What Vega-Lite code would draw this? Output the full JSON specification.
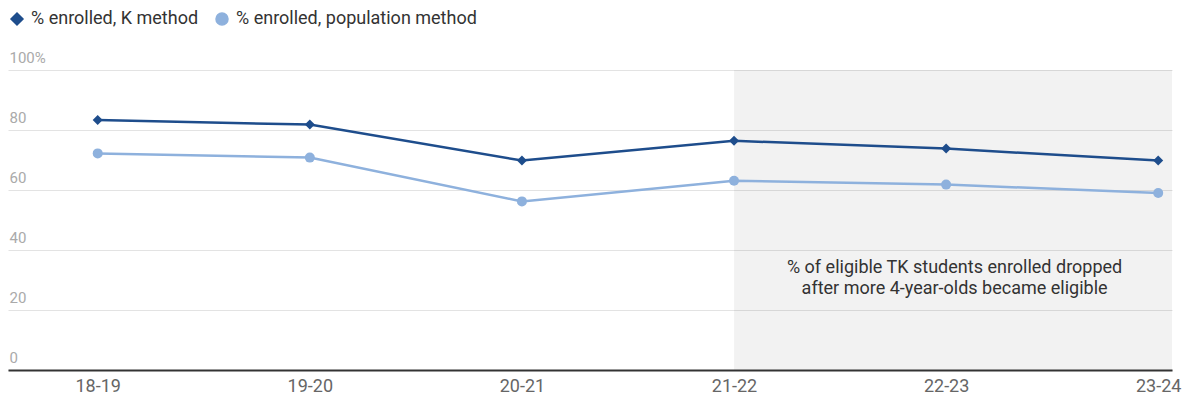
{
  "$schema": "https://vega.github.io/schema/vega-lite/v6.json",
  "width": 1164,
  "height": 300,
  "padding": {"left": 8, "top": 10, "right": 5, "bottom": 5},
  "config": {
    "font": "Roboto",
    "view": {"stroke": null},
    "axis": {"labelFont": "Roboto", "titleFont": "Roboto"},
    "legend": {"labelFont": "Roboto"}
  },
  "datasets": {
    "series": [
      {"year": 18, "series": "% enrolled, K method", "value": 83.3},
      {"year": 19, "series": "% enrolled, K method", "value": 81.8},
      {"year": 20, "series": "% enrolled, K method", "value": 69.8},
      {"year": 21, "series": "% enrolled, K method", "value": 76.4},
      {"year": 22, "series": "% enrolled, K method", "value": 73.8},
      {"year": 23, "series": "% enrolled, K method", "value": 69.8},
      {"year": 18, "series": "% enrolled, population method", "value": 72.2},
      {"year": 19, "series": "% enrolled, population method", "value": 70.8},
      {"year": 20, "series": "% enrolled, population method", "value": 56.2},
      {"year": 21, "series": "% enrolled, population method", "value": 63.1},
      {"year": 22, "series": "% enrolled, population method", "value": 61.8},
      {"year": 23, "series": "% enrolled, population method", "value": 59.0}
    ],
    "band": [{"x1": 21, "x2": 23.065, "y1": 0, "y2": 100}],
    "note": [{"x": 22.04, "y": 34, "text": ["% of eligible TK students enrolled dropped", "after more 4-year-olds became eligible"]}]
  },
  "layer": [
    {
      "data": {"name": "band"},
      "mark": {"type": "rect", "fill": "#000000", "fillOpacity": 0.05},
      "encoding": {
        "x": {"field": "x1", "type": "quantitative", "scale": {"domain": [17.577, 23.065], "nice": false, "zero": false},
          "axis": {"values": [18, 19, 20, 21, 22, 23], "labelExpr": "datum.value + '-' + (datum.value + 1)", "title": null, "grid": false, "ticks": false, "domain": true, "domainColor": "#333333", "domainWidth": 2, "labelColor": "#666666", "labelFontSize": 18, "labelPadding": 7, "labelFlush": false, "zindex": 1}},
        "x2": {"field": "x2"},
        "y": {"field": "y1", "type": "quantitative", "scale": {"domain": [0, 100], "nice": false},
          "axis": {"values": [0, 20, 40, 60, 80, 100], "labelExpr": "datum.value == 100 ? '100%' : datum.label", "title": null, "grid": true, "gridColor": "#e3e3e3", "gridWidth": 1, "ticks": false, "domain": false, "labelAlign": "left", "labelBaseline": "alphabetic", "labelPadding": -1, "labelOffset": -8, "labelColor": "#aaaaaa", "labelFontSize": 15}},
        "y2": {"field": "y2"}
      }
    },
    {
      "data": {"name": "series"},
      "mark": {"type": "line", "strokeWidth": 2.5},
      "encoding": {
        "x": {"field": "year", "type": "quantitative"},
        "y": {"field": "value", "type": "quantitative"},
        "color": {"field": "series", "type": "nominal", "scale": {"domain": ["% enrolled, K method", "% enrolled, population method"], "range": ["#1e4d8c", "#8eb1dd"]}}
      }
    },
    {
      "data": {"name": "series"},
      "mark": {"type": "point", "filled": true, "opacity": 1},
      "encoding": {
        "x": {"field": "year", "type": "quantitative"},
        "y": {"field": "value", "type": "quantitative"},
        "color": {"field": "series", "type": "nominal",
          "legend": {"orient": "top", "direction": "horizontal", "title": null, "labelFontSize": 18, "labelColor": "#333333", "labelLimit": 500, "symbolSize": 144, "columnPadding": 14, "labelOffset": 5, "offset": 42}},
        "shape": {"field": "series", "type": "nominal", "scale": {"domain": ["% enrolled, K method", "% enrolled, population method"], "range": ["diamond", "circle"]}, "legend": null},
        "size": {"value": 100}
      }
    },
    {
      "data": {"name": "note"},
      "mark": {"type": "text", "align": "center", "baseline": "middle", "fontSize": 18, "lineHeight": 21, "color": "#333333"},
      "encoding": {
        "x": {"field": "x", "type": "quantitative"},
        "y": {"field": "y", "type": "quantitative"},
        "text": {"field": "text"}
      }
    }
  ]
}
